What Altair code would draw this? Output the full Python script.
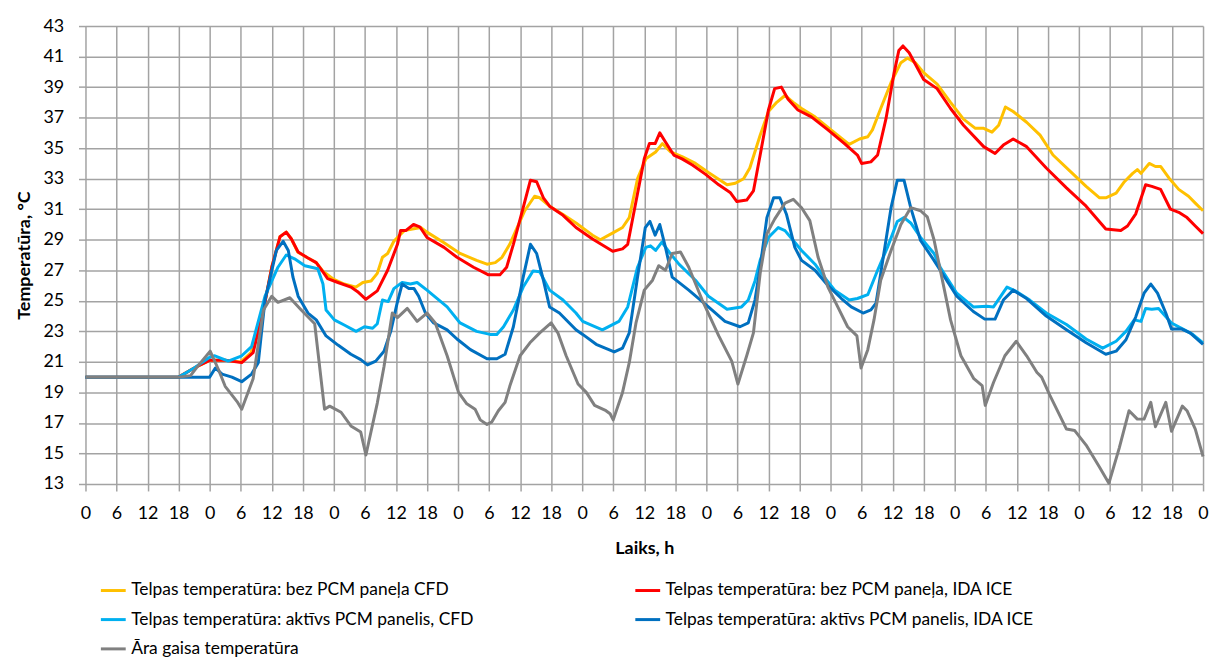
import altair as alt
import pandas as pd

series_names = [
    "Telpas temperatūra: bez PCM paneļa CFD",
    "Telpas temperatūra: bez PCM paneļa, IDA ICE",
    "Telpas temperatūra: aktīvs PCM panelis, CFD",
    "Telpas temperatūra: aktīvs PCM panelis, IDA ICE",
    "Āra gaisa temperatūra",
]
series_colors = ["#FFC000", "#FF0000", "#00B0F0", "#0070C0", "#808080"]
# legend is filled column by column: column 1 = CFD, CFD, outdoor; column 2 = IDA ICE, IDA ICE
legend_order = [0, 2, 4, 1, 3]

yellow_h = [0, 18, 21, 24, 27, 30, 32, 34.4, 36, 37.6, 38.8, 39.8, 41, 43, 44.6, 46, 48, 50, 52.3, 53.6,
            55.2, 56.4, 57.4, 58.4, 59.6, 61.6, 63.2, 64.8, 66, 69.3, 72.4, 75.6, 77.6, 79.2, 80.5, 82, 83.3,
            84.9, 86.8, 87.8, 89.7, 92.3, 94.8, 98, 99.5, 102.2, 103.8, 105.1, 106.7, 108.3, 110.2, 111.5,
            113.1, 115.3, 117.9, 120.4, 124, 125.6, 127.2, 128.4, 130.4, 132, 133.6, 135.2, 136.8, 138.4, 141,
            144.1, 147.6, 149.6, 151.2, 152.1, 153.7, 155.7, 157.6, 158.9, 160.4, 162, 164.6, 167.2, 169.7,
            172, 173.6, 175.2, 176.5, 177.8, 179.3, 181.9, 184.5, 187, 190.9, 193.4, 196, 197.2, 199.2, 200.8,
            202.4, 203.3, 204, 205.6, 206.8, 207.8, 209.4, 211.3, 213.2, 214.5, 216]
yellow_v = [20, 20, 20.6, 21.1, 21.1, 21.0, 21.6, 24.4, 27.2, 29.2, 29.5, 29.05, 28.2, 27.8, 27.5, 26.9, 26.4,
            26.1, 25.9, 26.2, 26.3, 26.8, 27.85, 28.1, 28.9, 29.6, 29.7, 29.8, 29.5, 28.8, 28.1, 27.65, 27.4,
            27.5, 27.85, 28.7, 29.7, 30.9, 31.85, 31.75, 31.2, 30.65, 30.1, 29.3, 29.0, 29.5, 29.8, 30.45, 33.0,
            34.3, 34.75, 35.3, 34.75, 34.45, 34.0, 33.4, 32.6, 32.7, 33.0, 33.7, 35.85, 37.4, 38.0, 38.45, 38.0,
            37.6, 37.05, 36.2, 35.25, 35.6, 35.75, 36.2, 37.6, 39.3, 40.6, 40.9, 40.6, 39.95, 39.2, 38.0, 36.9,
            36.3, 36.3, 36.05, 36.5, 37.7, 37.4, 36.7, 35.85, 34.55, 33.3, 32.5, 31.75, 31.75, 32.05, 32.8,
            33.35, 33.6, 33.35, 34.0, 33.8, 33.8, 33.05, 32.3, 31.85, 31.4, 30.9]

red_h = [0, 18, 21, 24, 27, 30.2, 32.4, 34.4, 36, 37.6, 38.8, 39.8, 41.1, 43, 44.6, 45.9, 46.8, 48.8, 51.3, 52.6,
         54.2, 56.4, 58.4, 60.3, 60.9, 61.9, 63.4, 64.6, 66, 69.3, 71.8, 75, 77.9, 80.1, 81.4, 82.7, 84.6, 86,
         87.2, 88.5, 89.7, 92.3, 94.8, 98, 101.9, 103.8, 104.8, 106.4, 108, 109, 110.1, 111, 112.1, 113.7,
         115.3, 117.3, 119.8, 122.4, 124.6, 125.9, 127.8, 129.1, 130.4, 132, 133.2, 134.5, 135.8, 137.7, 140.3,
         143.5, 146.7, 149.2, 150, 151.8, 153.1, 154.7, 156.3, 157.2, 158, 159.2, 160.4, 162, 164.6, 167.2,
         169.7, 173.6, 175.8, 177.4, 179.3, 181.9, 185.7, 189.6, 193.4, 197.2, 200.1, 201.4, 203, 204.9,
         206.1, 207.8, 209.7, 211.3, 212.9, 214.5, 216]
red_v = [20, 20, 20.6, 21.1, 21.1, 20.95, 21.6, 24.4, 27.2, 29.2, 29.5, 29.05, 28.2, 27.8, 27.5, 26.9, 26.45,
         26.2, 25.9, 25.6, 25.1, 25.65, 27.0, 28.7, 29.6, 29.6, 30.0, 29.85, 29.15, 28.5, 27.85, 27.2, 26.7,
         26.7, 27.2, 28.7, 31.1, 32.9, 32.8, 31.75, 31.2, 30.6, 29.8, 29.05, 28.25, 28.4, 28.7, 31.5, 34.3,
         35.3, 35.3, 36.0, 35.4, 34.55, 34.3, 33.9, 33.3, 32.6, 32.1, 31.5, 31.6, 32.2, 34.55, 37.5, 38.9,
         39.0, 38.2, 37.5, 37.05, 36.2, 35.3, 34.55, 34.0, 34.1, 34.55, 36.9, 39.95, 41.4, 41.7, 41.25, 40.5,
         39.5, 38.9, 37.6, 36.5, 35.1, 34.65, 35.2, 35.6, 35.1, 33.7, 32.4, 31.2, 29.7, 29.6, 29.9, 30.7, 32.6,
         32.5, 32.3, 31.0, 30.8, 30.45, 29.9, 29.4]

lblue_h = [0, 18, 21, 24, 25, 27.6, 30.2, 32.1, 34.7, 37.2, 38.8, 40.4, 42.4, 44.9, 45.9, 46.5, 48.1, 50.1,
           52.3, 53.9, 55.5, 56.4, 57.4, 58.5, 59.6, 61.2, 62.8, 64.1, 66, 69.9, 72.4, 75.6, 78.2, 79.5, 80.8,
           82.7, 84.6, 86.5, 87.8, 89.7, 92.3, 94.8, 96.1, 99.9, 103.1, 104.8, 106.7, 108.3, 109.2, 110.2,
           111.4, 112.8, 114.7, 117.9, 120.4, 124, 126.8, 128.1, 129.4, 130.4, 132, 133.9, 135.2, 136.8, 138.4,
           141, 142.8, 144.8, 147.6, 149.2, 151.2, 153.1, 155, 156.9, 158.2, 159.5, 161.4, 164, 165.2, 168.4,
           171.6, 174.2, 175.5, 178.1, 180, 182.5, 185.7, 189.6, 193.4, 196.6, 199.2, 201.1, 202.7, 204, 204.9,
           206.1, 207.4, 209.9, 212.4, 214, 216]
lblue_v = [20, 20, 20.6, 21.3, 21.4, 21.05, 21.4, 22.0, 25.3, 27.2, 28.0, 27.75, 27.3, 27.1, 26.1, 24.4, 23.75,
           23.4, 23.0, 23.3, 23.2, 23.5, 25.05, 24.95, 25.8, 26.2, 26.1, 26.2, 25.7, 24.6, 23.55, 23.0, 22.8,
           22.8, 23.3, 24.4, 25.9, 26.95, 26.9, 25.7, 25.05, 24.2, 23.65, 23.1, 23.65, 24.6, 27.2, 28.5, 28.6,
           28.3, 28.85, 28.2, 27.4, 26.35, 25.3, 24.45, 24.6, 25.05, 26.3, 27.65, 29.15, 29.8, 29.6, 28.95,
           28.3, 27.4, 26.55, 25.7, 25.05, 25.15, 25.4, 27.0, 28.5, 30.2, 30.45, 30.1, 29.15, 28.1, 27.2, 25.5,
           24.6, 24.65, 24.6, 25.9, 25.6, 25.05, 24.2, 23.45, 22.5, 21.9, 22.35, 23.0, 23.75, 23.65, 24.5,
           24.45, 24.5, 23.55, 23.1, 22.8, 22.25]

dblue_h = [0, 24, 25.1, 26.4, 28.3, 30.2, 32.1, 33.4, 34.7, 36.9, 38.2, 39.2, 40.1, 41.1, 43, 44.6, 46.5, 48.8,
           51.3, 53.2, 54.5, 56.1, 57.7, 59, 60.2, 61.2, 62.5, 63.5, 64.4, 65.7, 67.3, 69.9, 71.8, 74.4, 77.6,
           79.5, 81.1, 82.7, 84.6, 86, 87.2, 88.5, 89.7, 91.6, 94.8, 96.1, 98.7, 102.2, 103.8, 105.1, 106.7,
           108.2, 109.1, 110.1, 111, 112.1, 113.4, 116.6, 120.4, 123.6, 126.5, 128.1, 129.4, 130.4, 131.7, 133,
           134.2, 135.5, 137.1, 138.4, 141, 143.5, 146.1, 148, 150.3, 151.8, 152.8, 154.1, 155.7, 156.9, 158.2,
           159.5, 161.4, 164, 165.2, 168.4, 171.6, 173.8, 175.8, 177.4, 179.3, 181.9, 185.7, 189.6, 193.4,
           197.2, 199.2, 201.1, 203, 204.6, 205.9, 207.2, 208.8, 209.9, 211.9, 213.5, 216]
dblue_v = [20, 20, 20.6, 20.2, 20.0, 19.7, 20.2, 20.95, 25.05, 28.3, 28.9, 28.3, 26.55, 25.3, 24.2, 23.75, 22.7,
           22.1, 21.5, 21.15, 20.8, 21.05, 21.7, 23.0, 24.8, 26.1, 25.8, 25.8, 25.3, 24.2, 23.55, 23.1, 22.5,
           21.8, 21.2, 21.2, 21.5, 23.3, 26.55, 28.7, 28.1, 26.35, 24.6, 24.2, 23.1, 22.8, 22.15, 21.65, 21.9,
           22.9, 26.55, 29.8, 30.2, 29.3, 30.0, 28.5, 26.55, 25.7, 24.6, 23.65, 23.3, 23.55, 25.05, 27.2, 30.45,
           31.75, 31.75, 30.65, 28.5, 27.65, 27.0, 26.0, 25.15, 24.6, 24.2, 24.4, 24.85, 27.65, 31.1, 32.9, 32.9,
           31.1, 28.95, 27.65, 27.0, 25.3, 24.3, 23.8, 23.8, 25.05, 25.7, 25.15, 24.0, 23.1, 22.25, 21.5, 21.7,
           22.45, 23.95, 25.5, 26.1, 25.5, 24.2, 23.15, 23.15, 22.9, 22.15]

gray_h = [0, 18, 20.3, 21.9, 24.1, 25.7, 27, 29.3, 30.2, 32.4, 34.4, 36, 37.2, 39.5, 41.7, 44.3, 46.2, 47.2, 49.4,
          51.3, 53.2, 54.2, 56.4, 57.7, 59.3, 60.3, 62.2, 64.1, 66, 67.6, 69.9, 72.1, 73.7, 75.3, 76.3, 77.6,
          78.5, 79.8, 81.1, 82, 84, 85.9, 87.8, 90, 91.3, 92.9, 95.2, 96.8, 98.4, 100.6, 101.4, 102, 103.8, 105.1,
          106.4, 108, 109.6, 110.8, 112.1, 113.4, 115, 116.6, 119.2, 122.4, 124.9, 126.1, 127.8, 129.1, 130.4,
          131.7, 133.2, 135.2, 136.8, 138.4, 140, 141.6, 143.5, 145.4, 147.3, 149.1, 149.9, 151.2, 152.4, 153.7,
          155.7, 157.6, 159.5, 161.4, 162.7, 164, 165.9, 167.2, 169.2, 171.7, 173.3, 173.9, 175.5, 177.7, 179.9,
          181.9, 183.9, 184.8, 186.4, 188.3, 189.6, 191.2, 193.4, 196, 197.8, 199.8, 201.7, 203.3, 204.6, 205.9,
          206.8, 208.8, 209.9, 212, 212.9, 214.5, 216]
gray_v = [20, 20, 20.1, 20.8, 21.7, 20.5, 19.4, 18.4, 17.9, 19.9, 24.4, 25.3, 24.9, 25.2, 24.4, 23.5, 17.9, 18.1,
          17.7, 16.8, 16.4, 14.9, 18.3, 20.7, 24.2, 23.9, 24.5, 23.65, 24.2, 23.55, 21.4, 19.0, 18.25, 17.9, 17.2,
          16.9, 17.05, 17.8, 18.35, 19.4, 21.4, 22.25, 22.9, 23.55, 22.9, 21.4, 19.55, 19.0, 18.15, 17.8, 17.6,
          17.2, 19.0, 20.95, 23.55, 25.7, 26.35, 27.3, 27.0, 28.1, 28.2, 27.2, 25.05, 22.7, 21.05, 19.55, 21.4,
          22.9, 26.8, 29.4, 30.35, 31.4, 31.65, 31.1, 30.25, 27.85, 25.9, 24.6, 23.3, 22.7, 20.6, 21.8, 23.75,
          26.35, 28.3, 30.0, 31.1, 30.9, 30.5, 29.0, 25.9, 23.75, 21.4, 19.9, 19.45, 18.15, 19.65, 21.4, 22.35,
          21.4, 20.3, 20.0, 18.8, 17.5, 16.6, 16.5, 15.55, 14.1, 13.05, 15.35, 17.8, 17.25, 17.25, 18.35, 16.75,
          18.35, 16.45, 18.1, 17.8, 16.6, 14.8]

x_ticks = list(range(0, 217, 6))
y_ticks = list(range(13, 44, 2))

all_series = [(yellow_h, yellow_v), (red_h, red_v), (lblue_h, lblue_v), (dblue_h, dblue_v), (gray_h, gray_v)]
rows = []
for idx, (name, (hs, vs)) in enumerate(zip(series_names, all_series)):
    assert len(hs) == len(vs), name
    for h, v in zip(hs, vs):
        rows.append({"series": name, "idx": idx, "h": h, "v": v})
df = pd.DataFrame(rows)

legend_domain = [series_names[i] for i in legend_order]
legend_range = [series_colors[i] for i in legend_order]

FONT = "Lato"
GRID = "#A3A3A3"

chart = alt.Chart(df).mark_line(strokeWidth=3, strokeJoin="round").encode(
    x=alt.X("h:Q",
            scale=alt.Scale(domain=[0, 216], nice=False, zero=False),
            axis=alt.Axis(values=x_ticks, labelExpr="datum.value % 24", title="Laiks, h",
                          grid=True, gridColor=GRID, gridWidth=1.5, domain=False,
                          tickSize=7, tickColor=GRID, tickWidth=1.5,
                          labelFont=FONT, labelFontSize=18, labelColor="#000000", labelPadding=14,
                          labelOverlap=False, labelFlush=False,
                          titleFont=FONT, titleFontSize=18, titleFontWeight="bold", titleColor="#000000",
                          titlePadding=17)),
    y=alt.Y("v:Q",
            scale=alt.Scale(domain=[13, 43], nice=False, zero=False),
            axis=alt.Axis(values=y_ticks, title="Temperatūra, °C",
                          grid=True, gridColor=GRID, gridWidth=1.5, domain=False,
                          tickSize=7, tickColor=GRID, tickWidth=1.5,
                          labelFont=FONT, labelFontSize=18, labelColor="#000000", labelPadding=15,
                          labelOverlap=False,
                          titleFont=FONT, titleFontSize=18, titleFontWeight="bold", titleColor="#000000",
                          titlePadding=9)),
    color=alt.Color("series:N",
                    scale=alt.Scale(domain=legend_domain, range=legend_range),
                    legend=alt.Legend(title=None, orient="none", legendX=14, legendY=554, columns=2,
                                      symbolType="stroke", symbolSize=625, symbolStrokeWidth=3,
                                      labelFont=FONT, labelFontSize=17.5, labelColor="#000000",
                                      labelLimit=800, labelOffset=4, columnPadding=156, rowPadding=6.5,
                                      padding=0)),
    detail="idx:O",
).properties(
    width=1125,
    height=461,
    padding={"left": 78, "top": 16, "right": 7, "bottom": 172},
    autosize=alt.AutoSizeParams(type="none"),
    background="#FFFFFF",
).configure_view(stroke=None)

chart.save("out.html", embed_options={"renderer": "svg", "actions": False})
